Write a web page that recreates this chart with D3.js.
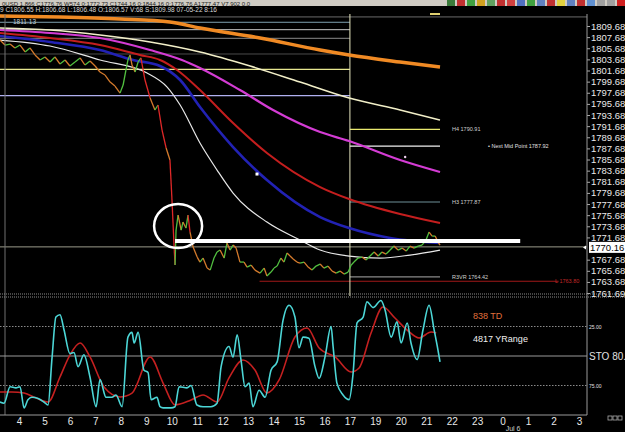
<!DOCTYPE html>
<html><head><meta charset="utf-8">
<script src="https://cdn.jsdelivr.net/npm/d3@7"></script>
<style>body{margin:0;background:#000;overflow:hidden}svg{display:block;font-family:"Liberation Sans",Arial,sans-serif}</style>
</head><body><svg id="c" width="625" height="432"></svg>
<script>
// ---------- DATA ----------
const hourLabels = ["4","5","6","7","8","9","10","11","12","13","14","15","16","17","19","20","21","22","23","0","1","2","3"];
const priceTicks = [1809.68,1807.68,1805.68,1803.68,1801.68,1799.68,1797.68,1795.68,1793.68,1791.68,1789.68,1787.68,1785.68,1783.68,1781.68,1779.68,1777.68,1775.68,1773.68,1771.68,1767.68,1765.68,1763.68,1761.69];
const lastPrice = 1770.16;
// price path: [bar (6-minute units from the "4" label), price]
const price = [[-7.5,1806.98],[-5.5,1806.08],[-3.5,1806.26],[-1.6,1805.55],[0.4,1806.08],[2.4,1804.83],[4.3,1805.55],[6.3,1804.29],[8.3,1803.39],[10.2,1803.93],[12.2,1803.03],[14.1,1803.93],[16.1,1802.67],[18.1,1803.39],[20,1802.31],[22,1803.03],[24,1803.75],[25.9,1802.49],[27.9,1803.21],[29.9,1802.31],[31.8,1801.23],[33.8,1800.69],[35.8,1799.43],[37.7,1798.71],[39.7,1797.45],[40.9,1798.89],[42,1801.59],[42.8,1803.39],[43.6,1804.29],[44.4,1802.49],[45.6,1801.23],[46.8,1803.03],[47.9,1803.75],[49.5,1799.79],[51.5,1796.56],[53.4,1794.40],[54.6,1795.30],[56.2,1790.80],[57.8,1787.57],[59.3,1785.41],[60.1,1778.22],[60.9,1770.13],[61.3,1766.53],[61.7,1772.82],[62.5,1775.52],[63.7,1772.82],[64.4,1774.26],[65.6,1773.18],[66.4,1775.52],[67.2,1772.46],[68.4,1769.77],[70,1767.97],[71.1,1767.07],[72.3,1767.79],[73.9,1765.99],[75.1,1765.63],[76.6,1767.79],[77.8,1768.87],[79,1769.23],[80.6,1767.79],[81.7,1770.49],[82.9,1769.23],[84.1,1770.13],[85.3,1769.59],[86.8,1767.07],[88.4,1767.07],[89.6,1766.17],[91.2,1766.53],[92.7,1765.63],[94.7,1765.09],[96.3,1765.99],[97.4,1764.55],[99,1765.27],[100.2,1765.99],[101.4,1766.35],[102.9,1767.79],[104.1,1767.07],[105.3,1768.69],[106.5,1768.15],[107.7,1767.61],[109.2,1767.07],[110.4,1766.89],[112,1767.07],[113.6,1766.17],[115.1,1765.63],[116.7,1766.35],[118.3,1766.71],[119.8,1765.99],[121.4,1766.35],[123,1765.45],[124.6,1765.09],[126.1,1765.45],[127.7,1764.91],[129.3,1765.27],[130.5,1766.53],[131.6,1767.07],[133.2,1767.79],[134.8,1767.97],[136.3,1767.43],[137.9,1768.15],[139.5,1768.87],[141.1,1768.15],[142.6,1768.87],[144.2,1768.51],[145.8,1769.23],[147.3,1769.95],[148.9,1769.23],[150.5,1769.59],[152.1,1769.05],[153.6,1769.95],[155.2,1769.59],[156.8,1769.95],[158.3,1770.13],[159.9,1771.03],[161.1,1772.46],[162.3,1771.74],[163.5,1771.74],[164.6,1770.67],[165.4,1770.13]];
// moving averages
const maOrange = [[-7.5,1811.30],[16.1,1811.12],[39.7,1810.76],[59.3,1810.22],[71.1,1809.14],[94.7,1807.34],[118.3,1805.18],[129.7,1804.29],[149.7,1803.03],[165.4,1802.13]];
const maCream = [[-7.5,1809.14],[12.2,1808.78],[31.8,1807.88],[51.5,1806.62],[71.1,1804.83],[90.8,1802.31],[110.4,1799.43],[129.7,1796.56],[149.7,1794.40],[165.4,1792.60]];
const maMagenta = [[-7.5,1808.78],[12.2,1808.24],[31.8,1807.34],[51.5,1805.18],[64,1803.39],[71.1,1801.95],[86.8,1797.99],[99.8,1794.40],[118.3,1790.44],[129.7,1788.82],[149.7,1785.41],[165.4,1783.25]];
const maRed = [[-7.5,1808.24],[12.2,1807.34],[31.8,1806.08],[47.5,1804.29],[55.4,1803.39],[62.1,1801.59],[71.1,1797.99],[84.1,1792.06],[97.4,1786.67],[118.3,1780.55],[129.7,1778.40],[149.7,1775.70],[165.4,1774.08]];
const maBlue = [[-7.5,1807.70],[12.2,1806.62],[31.8,1805.18],[44.8,1803.39],[55.4,1802.31],[63.3,1799.79],[71.1,1794.94],[84.1,1787.75],[97.4,1781.81],[118.3,1775.16],[129.7,1773.18],[145.8,1771.39],[165.4,1770.49]];
const maWhite = [[-7.5,1806.98],[12.2,1805.90],[31.8,1803.39],[50.3,1801.05],[58.2,1798.53],[63.3,1795.30],[71.1,1788.46],[77.8,1783.61],[84.1,1779.48],[97.4,1774.26],[110.4,1771.03],[118.3,1769.23],[129.7,1768.15],[141.9,1767.79],[153.6,1768.33],[165.4,1769.23]];
// horizontal levels
const leftLevels = [1811.13,1810.17,1808.84,1807.29,1804.47,1801.72,1796.97];
const rightLevels = [1790.91,1787.92,1777.87,1764.42];
const rightLevelNames = ["H4 1790.91","","H3 1777.87","R3VR 1764.42"];
const lowLevel = 1763.80, lowLevelName = "L 1763.80";
const midPointName = "\u2022 Next Mid Point 1787.92";
const supportLevel = 1770.85; // thick white line
const circleMark = [62.5,1773.54];
const squareMark = [93.5,1782.89];
const dotMark = [151.7,1785.95];
const sessionBar = 130;
// stochastic
const stoFast = [[-7.5,11],[-5.9,10],[-3.5,24],[-1.2,23],[0.4,24],[2,6],[3.5,13],[5.1,15],[7.5,14],[9.8,11],[11.4,8.5],[13,49],[14.5,83],[16.1,85],[17.7,72],[20,52],[21.6,53],[23.2,41],[25.5,51],[27.9,32],[30.3,7],[31.8,30],[34.2,15],[36.5,15],[38.1,17],[40.5,7],[42.8,66],[44.4,70],[45.2,61],[46.8,70],[49.1,38],[50.7,36],[51.9,13],[54.2,15],[55.4,7],[56.6,6],[59.7,6],[61.3,7],[62.9,24],[66,23],[67.6,25],[69.9,8.5],[72.3,7],[75.4,7],[77.8,10],[79.4,41],[82.5,58],[84.1,49],[85.7,68],[87.2,47],[88.8,24],[90.4,27],[91.9,7],[94.3,21],[96.7,15],[99,38],[101.4,45],[103.7,80],[106.1,93],[108.4,83],[110,57],[111.6,66],[113.9,65],[116.3,41],[117.9,31],[120.2,49],[122.6,75],[123.4,58],[124.9,27],[127.3,17],[129.7,13],[131.2,34],[132.8,78],[135.2,83],[136.7,96],[139.1,91],[142.2,97],[143.8,89],[146.2,66],[148.5,79],[150.1,61],[152.5,78],[154,61],[156.4,47],[158.7,72],[161.1,93],[163.1,72],[164.6,55],[165.4,45]];
const stoSlow = [[-7.5,19.5],[-2.8,19.5],[2,18.6],[6.7,14.4],[11.4,11],[16.1,32.2],[20,50.8],[24,61],[27.9,49.2],[33.4,23.7],[39.7,15.3],[44.4,18.6],[51.5,49.2],[56.6,27.1],[61.3,8.5],[67.6,12.7],[72.3,17],[77.8,11],[82.5,31.4],[88,46.6],[92.7,38.1],[97.4,18.6],[102.2,29.7],[108.4,66.1],[113.2,73.7],[117.9,56.8],[124.2,49.2],[130.5,36.4],[133.6,39.8],[138.3,69.5],[143,91.5],[147.7,82.2],[152.5,72],[157.2,65.3],[161.9,70.3],[163.9,69.5]];
const stoLevels = [75,50,25];
const stoLevelNames = ["25.00","STO  80.","75.00"];
const infoTD = "838 TD", infoRange = "4817 YRange";
const headerTop = "0USD 1.866 C1776.76 W574 0:1772.73 C1744.16 0:1844.16 0:1776.76 A1777.47 V7,902 0.0";
const headerText = "9 C1806.55 H:1806.68 L:1806.48 O:1806.57 V:68 S:1809.98 07-05-22  8:16";
const levelLabel = "1811.13";
const dateLabel = "Jul 6";

// ---------- CHART ----------
const svg = d3.select("#c");
svg.append("rect").attr("width",625).attr("height",432).attr("fill","#000");
const x = d3.scaleLinear().domain([0,220]).range([19,579]);
const y = d3.scaleLinear().domain([1761.69,1809.68]).range([292,25]);
const ys = d3.scaleLinear().domain([0,100]).range([415,297]);
const AX = 587, LX = 5, VX = x(sessionBar);

// title bar
svg.append("rect").attr("x",0).attr("y",0).attr("width",625).attr("height",6).attr("fill","#cfcbc3");
svg.append("text").attr("x",2).attr("y",5.5).attr("font-size",6).attr("fill","#222").text(headerTop);
const iconCols = ["#3a7a3a","#c03030","#40a040","#d0a020","#60a060","#c03030","#d04040","#5070c0","#40a040","#6080c0","#c03030","#e0d040","#6080c0","#c03030","#6090d0","#a0a0a0","#a0a0a0","#d02020"];
iconCols.forEach((c,i)=>svg.append("rect").attr("x",447+i*10).attr("y",0).attr("width",8).attr("height",6).attr("fill",c));
svg.append("text").attr("x",0).attr("y",12).attr("font-size",6.5).attr("fill","#d8d8d8").text(headerText);

// left levels
const leftCols = ["#6a6a6a","#7fa0b0","#c8c8c8","#8a8a8a","#4a4a4a","#e6e690","#b0b0f0"];
leftLevels.forEach((p,i)=>{
  svg.append("line").attr("x1",0).attr("x2",i===0?AX:VX).attr("y1",y(p)).attr("y2",y(p))
    .attr("stroke",leftCols[i]).attr("stroke-width",i===5||i===6?1.3:1);
});
svg.append("text").attr("x",13).attr("y",24).attr("font-size",6.5).attr("fill","#c0d0d8").text(levelLabel);

// current price line
svg.append("line").attr("x1",0).attr("x2",AX).attr("y1",y(lastPrice)+2).attr("y2",y(lastPrice)+2).attr("stroke","#9a9a8a").attr("stroke-width",1);

// right levels
const rightCols = ["#eaea70","#f0f0f0","#6f8f98","#8a8a8a"];
rightLevels.forEach((p,i)=>{
  svg.append("line").attr("x1",VX).attr("x2",x(165.4)).attr("y1",y(p)).attr("y2",y(p)).attr("stroke",rightCols[i]).attr("stroke-width",1.2);
  if(rightLevelNames[i]) svg.append("text").attr("x",452).attr("y",y(p)+2).attr("font-size",5.5).attr("fill","#d0d0d0").text(rightLevelNames[i]);
});
svg.append("text").attr("x",488).attr("y",y(rightLevels[1])+2).attr("font-size",5.5).attr("fill","#e0e0e0").text(midPointName);
svg.append("line").attr("x1",x(94.5)).attr("x2",x(212)).attr("y1",y(lowLevel)+1).attr("y2",y(lowLevel)+1).attr("stroke","#a01818").attr("stroke-width",1);
svg.append("text").attr("x",555).attr("y",y(lowLevel)+3).attr("font-size",5.5).attr("fill","#c02828").text(lowLevelName);

// session vertical
svg.append("line").attr("x1",VX).attr("x2",VX).attr("y1",14).attr("y2",296).attr("stroke","#e8e8c0").attr("stroke-width",1);
svg.append("line").attr("x1",430).attr("x2",440).attr("y1",14).attr("y2",14).attr("stroke","#e0d070").attr("stroke-width",2);

// MAs
const line = d3.line().x(d=>x(d[0])).y(d=>y(d[1])).curve(d3.curveMonotoneX);
const mas = [[maOrange,"#f08a24",3.5],[maCream,"#f2efc8",1.5],[maMagenta,"#d43cd4",2.2],[maRed,"#c41e1e",2],[maBlue,"#2222b4",2.6],[maWhite,"#e8e8e8",1.2]];
mas.forEach(([d,c,w])=>svg.append("path").attr("d",line(d)).attr("fill","none").attr("stroke",c).attr("stroke-width",w));

// price
for(let i=1;i<price.length;i++){
  const a=price[i-1], b=price[i], diff=b[1]-a[1];
  const col = diff>=0 ? "#52c040" : (diff<-3 ? "#e02828" : "#d47a2c");
  svg.append("line").attr("x1",x(a[0])).attr("y1",y(a[1])).attr("x2",x(b[0])).attr("y2",y(b[1])).attr("stroke",col).attr("stroke-width",1.3);
}

// markers
svg.append("line").attr("x1",x(61.3)).attr("x2",x(196.9)).attr("y1",y(supportLevel)).attr("y2",y(supportLevel)).attr("stroke","#fff").attr("stroke-width",4);
svg.append("ellipse").attr("cx",x(circleMark[0])).attr("cy",y(circleMark[1])).attr("rx",24).attr("ry",22).attr("fill","none").attr("stroke","#fff").attr("stroke-width",2.5);
svg.append("rect").attr("x",x(squareMark[0])-1.5).attr("y",y(squareMark[1])-1.5).attr("width",3).attr("height",3).attr("fill","#fff");
svg.append("circle").attr("cx",x(dotMark[0])).attr("cy",y(dotMark[1])).attr("r",1.2).attr("fill","#f0d0f0");

// left border lines
svg.append("line").attr("x1",LX).attr("x2",LX).attr("y1",14).attr("y2",415).attr("stroke","#707070");

// panel separator
[294,297].forEach(yy=>svg.append("line").attr("x1",0).attr("x2",625).attr("y1",yy).attr("y2",yy).attr("stroke","#8a8a8a").attr("stroke-dasharray","1,1"));

// y axis
const yAxis = d3.axisRight(y).tickValues(priceTicks).tickFormat(d=>d.toFixed(2)).tickSize(3).tickPadding(1);
const gy = svg.append("g").attr("transform",`translate(${AX},1)`).call(yAxis);
gy.select(".domain").remove();
gy.selectAll("line").attr("stroke","#aaa");
gy.selectAll("text").attr("fill","#eaeaea").attr("font-size",9.5).attr("font-family","Liberation Sans, Arial");
svg.append("line").attr("x1",AX).attr("x2",AX).attr("y1",14).attr("y2",415).attr("stroke","#9a9a9a");
// last price box
const LY = y(lastPrice)+2.5;
svg.append("rect").attr("x",AX+2).attr("y",LY-5.5).attr("width",36).attr("height",11).attr("fill","#fff");
svg.append("text").attr("x",AX+3).attr("y",LY+3.5).attr("font-size",9.5).attr("fill","#000").text(lastPrice.toFixed(2));
svg.append("path").attr("d",`M${AX-4},${LY} l3,-2 v4 z`).attr("fill","#fff");

// stochastic panel
stoLevels.forEach((v,i)=>{
  svg.append("line").attr("x1",0).attr("x2",AX).attr("y1",ys(v)).attr("y2",ys(v)).attr("stroke",i===1?"#9a9a9a":"#8a8a8a").attr("stroke-dasharray",i===1?null:"1.5,1.5");
  svg.append("text").attr("x",AX+2).attr("y",ys(v)+(i===1?4:2)).attr("font-size",i===1?10:5).attr("fill","#e0e0e0").text(stoLevelNames[i]);
});
const sline = d3.line().x(d=>x(d[0])).y(d=>ys(d[1])).curve(d3.curveMonotoneX);
svg.append("path").attr("d",sline(stoSlow)).attr("fill","none").attr("stroke","#c42020").attr("stroke-width",1.6);
svg.append("path").attr("d",sline(stoFast)).attr("fill","none").attr("stroke","#4cd6d6").attr("stroke-width",1.6);
svg.append("text").attr("x",473).attr("y",319).attr("font-size",9).attr("fill","#e0703c").text(infoTD);
svg.append("text").attr("x",473).attr("y",342).attr("font-size",9).attr("fill","#f0f0f0").text(infoRange);

// x axis
svg.append("line").attr("x1",0).attr("x2",AX).attr("y1",415).attr("y2",415).attr("stroke","#9a9a9a");
const xAxis = d3.axisBottom(x).tickValues(d3.range(0,221,10)).tickFormat((d,i)=>hourLabels[i]).tickSize(0).tickPadding(3);
const gx = svg.append("g").attr("transform","translate(0,415)").call(xAxis);
gx.select(".domain").remove();
gx.selectAll("text").attr("fill","#e8e8e8").attr("font-size",10).attr("font-family","Liberation Sans, Arial");
svg.append("text").attr("x",x(190)+3).attr("y",431).attr("font-size",7).attr("fill","#d0d0d0").text(dateLabel);
[0,1,2].forEach(i=>svg.append("rect").attr("x",608+i*5).attr("y",416).attr("width",4).attr("height",4).attr("fill","none").attr("stroke","#aaa").attr("stroke-width",0.8));
</script></body></html>
